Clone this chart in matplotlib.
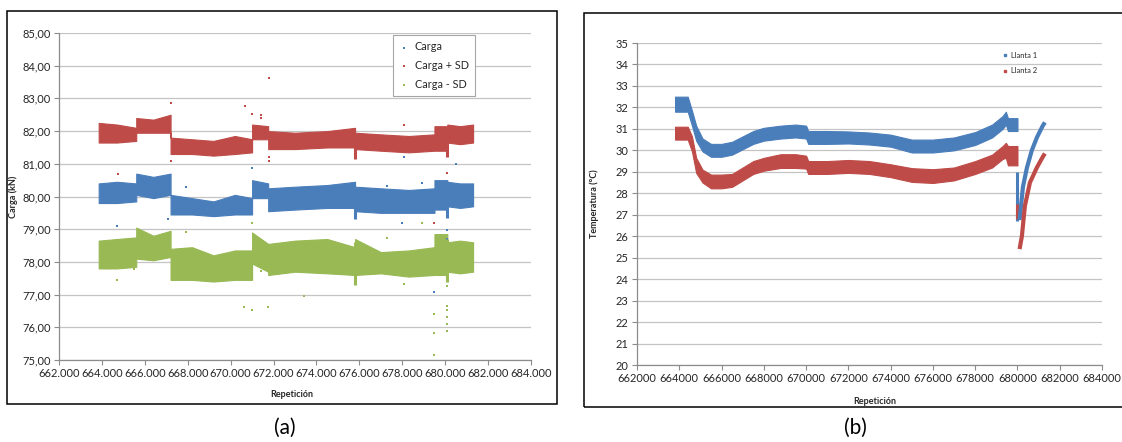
import matplotlib
matplotlib.use("Agg")
import matplotlib.pyplot as plt
from matplotlib.patches import Rectangle
from matplotlib.lines import Line2D
from matplotlib.ticker import FuncFormatter

plt.rcParams['font.family'] = ['Lato', 'DejaVu Sans']

BLUE = '#4A7EBB'
RED = '#BE4B48'
GREEN = '#98B954'
GRID = '#C4C4C4'
AXIS = '#8C8C8C'
TXT = '#262626'

# ---------------- (a) load per repetition ----------------
rep_a = [663850, 664700, 665600, 665600, 666400, 667200, 667200, 668200, 669200,
         670200, 671000, 671000, 671750, 671750, 673000, 674500, 675800, 675800,
         677000, 678300, 679500, 679500, 680100, 680100, 680700, 681300]

carga_sd_plus_hi = [82.25, 82.2, 82.1, 82.4, 82.35, 82.5, 81.8, 81.75, 81.7, 81.85,
                    81.75, 82.2, 82.15, 82.0, 81.95, 82.0, 82.1, 81.95, 81.9, 81.85,
                    81.9, 82.15, 82.15, 82.2, 82.15, 82.2]
carga_sd_plus_lo = [81.65, 81.65, 81.7, 81.95, 81.95, 81.95, 81.3, 81.3, 81.25, 81.3,
                    81.35, 81.75, 81.75, 81.45, 81.45, 81.5, 81.5, 81.45, 81.4, 81.35,
                    81.4, 81.4, 81.4, 81.65, 81.6, 81.65]

carga_hi = [80.4, 80.45, 80.4, 80.7, 80.6, 80.7, 80.05, 79.95, 79.85, 80.05, 79.95,
            80.5, 80.4, 80.25, 80.3, 80.35, 80.45, 80.3, 80.25, 80.2, 80.25, 80.5,
            80.5, 80.45, 80.4, 80.4]
carga_lo = [79.8, 79.8, 79.85, 80.05, 79.95, 80.05, 79.45, 79.45, 79.4, 79.45, 79.45,
            79.95, 79.95, 79.55, 79.6, 79.65, 79.65, 79.55, 79.5, 79.5, 79.5, 79.6,
            79.6, 79.7, 79.65, 79.7]

carga_sd_minus_hi = [78.65, 78.7, 78.75, 79.05, 78.8, 78.95, 78.4, 78.45, 78.2, 78.35,
                     78.35, 78.9, 78.55, 78.55, 78.65, 78.7, 78.45, 78.7, 78.3, 78.35,
                     78.45, 78.85, 78.85, 78.6, 78.65, 78.6]
carga_sd_minus_lo = [77.8, 77.8, 77.85, 78.1, 78.05, 78.15, 77.45, 77.45, 77.4, 77.45,
                     77.45, 77.95, 77.7, 77.6, 77.7, 77.65, 77.6, 77.6, 77.65, 77.55,
                     77.6, 77.6, 77.6, 77.7, 77.65, 77.7]

# short drops in the load at two repetitions
dip_rep = [675800, 680100]
carga_sd_plus_dip = [81.15, 81.2]
carga_dip = [79.3, 79.35]
carga_sd_minus_dip = [77.3, 77.4]
dip_top_plus = [81.9, 82.1]
dip_top = [80.2, 80.4]
dip_top_minus = [78.6, 78.7]

# isolated readings
out_plus_x = [664750, 667200, 667200, 670650, 671000, 671400, 671400, 671800, 671800,
              671800, 678100, 679500, 680100]
out_plus_y = [80.69, 82.86, 81.08, 82.77, 82.52, 82.49, 82.4, 83.62, 81.2, 81.1,
              82.19, 79.2, 80.72]
out_carga_x = [664700, 667100, 667900, 671000, 677300, 678100, 678900, 678000,
               680100, 680100, 679500, 680500]
out_carga_y = [79.1, 79.3, 80.3, 80.87, 80.32, 81.2, 80.41, 79.2, 78.98, 78.7,
               77.08, 80.99]
out_minus_x = [664700, 665500, 667900, 671000, 670600, 671000, 671750, 671400,
               673400, 677300, 678100, 678900, 679500, 679500, 679500, 680100,
               680100, 680100, 680100, 680100, 680100]
out_minus_y = [77.45, 77.78, 78.91, 79.19, 76.62, 76.53, 76.62, 77.72, 76.96,
               78.73, 77.32, 79.19, 76.4, 75.83, 75.15, 77.26, 76.65, 76.53,
               76.3, 75.89, 76.1]

# ---------------- (b) tyre temperature ----------------
rep_b = [663800, 664400, 664600, 664800, 665100, 665500, 666000, 666500, 667000,
         667500, 668000, 668800, 669500, 670000, 670100, 671000, 672000, 673000,
         674000, 675000, 676000, 677000, 678000, 678800, 679300, 679450, 679550,
         680000]
llanta1_c = [32.15, 32.15, 31.5, 30.8, 30.25, 30.0, 30.0, 30.1, 30.35, 30.6, 30.75,
             30.85, 30.9, 30.85, 30.6, 30.6, 30.6, 30.55, 30.45, 30.2, 30.2, 30.3,
             30.55, 30.9, 31.3, 31.5, 31.2, 31.2]
llanta1_spread = [0.35, 0.35, 0.35, 0.35, 0.3, 0.3, 0.3, 0.3, 0.3, 0.3, 0.3, 0.3,
                  0.3, 0.3, 0.3, 0.3, 0.28, 0.28, 0.28, 0.3, 0.3, 0.3, 0.3, 0.3,
                  0.3, 0.3, 0.3, 0.3]
llanta2_c = [30.8, 30.8, 30.3, 29.3, 28.8, 28.55, 28.55, 28.6, 28.9, 29.2, 29.35,
             29.5, 29.5, 29.45, 29.2, 29.2, 29.25, 29.2, 29.05, 28.85, 28.8, 28.9,
             29.2, 29.5, 29.9, 30.0, 29.75, 29.75]
llanta2_spread = [0.3, 0.3, 0.35, 0.35, 0.3, 0.32, 0.32, 0.3, 0.3, 0.3, 0.3, 0.32,
                  0.32, 0.3, 0.3, 0.3, 0.3, 0.3, 0.3, 0.32, 0.32, 0.3, 0.3, 0.3,
                  0.3, 0.35, 0.45, 0.45]

# cool-down and recovery after the stop
llanta1_rec_x = [680100, 680260, 680450, 680680, 680920, 681200, 681300]
llanta1_rec_y = [26.75, 28.3, 29.2, 30.0, 30.6, 31.15, 31.3]
llanta2_rec_x = [680100, 680210, 680350, 680590, 680920, 681200, 681300]
llanta2_rec_y = [25.4, 26.0, 27.4, 28.5, 29.2, 29.7, 29.85]
stop_rep = 680000
llanta1_stop = [26.7, 29.0]
llanta2_stop = [26.8, 27.5]

# ---------------- figure ----------------
fig = plt.figure(figsize=(11.22, 4.42), dpi=100)
W, H = 1122.0, 442.0


def fig_box(x0, y0, x1, y1):
    return [x0 / W, 1 - y1 / H, (x1 - x0) / W, (y1 - y0) / H]


def style_axes(ax):
    for s in ('top', 'right'):
        ax.spines[s].set_visible(False)
    for s in ('left', 'bottom'):
        ax.spines[s].set_color(AXIS)
        ax.spines[s].set_linewidth(0.9)
    ax.yaxis.grid(True, color=GRID, lw=0.9)
    ax.xaxis.grid(False)
    ax.set_axisbelow(True)
    ax.tick_params(direction='out', length=3.5, width=0.8, color=AXIS,
                   labelsize=8, labelcolor=TXT, pad=2.5)


# frames around both panels
fig.add_artist(Rectangle((7 / W, 1 - 404 / H), 550 / W, 393 / H, fill=False,
                         lw=1.1, ec='black', transform=fig.transFigure))
fig.add_artist(Rectangle((584 / W, 1 - 407 / H), 560 / W, 394 / H, fill=False,
                         lw=1.1, ec='black', transform=fig.transFigure,
                         clip_on=False))

# ---- panel (a)
ax1 = fig.add_axes(fig_box(59, 33, 531, 360))
style_axes(ax1)
for hi, lo, col in ((carga_sd_plus_hi, carga_sd_plus_lo, RED),
                    (carga_hi, carga_lo, BLUE),
                    (carga_sd_minus_hi, carga_sd_minus_lo, GREEN)):
    ax1.fill_between(rep_a, lo, hi, color=col, lw=0.8, edgecolor=col)
ax1.vlines(dip_rep, carga_sd_plus_dip, dip_top_plus, color=RED, lw=2.2)
ax1.vlines(dip_rep, carga_dip, dip_top, color=BLUE, lw=2.2)
ax1.vlines(dip_rep, carga_sd_minus_dip, dip_top_minus, color=GREEN, lw=2.2)
ax1.scatter(out_carga_x, out_carga_y, s=4, marker='s', color=BLUE, lw=0, label='Carga')
ax1.scatter(out_plus_x, out_plus_y, s=4, marker='s', color=RED, lw=0, label='Carga + SD')
ax1.scatter(out_minus_x, out_minus_y, s=4, marker='s', color=GREEN, lw=0, label='Carga - SD')

ax1.set_xlim(662000, 684000)
ax1.set_xticks(range(662000, 684001, 2000))
ax1.set_ylim(75, 85)
ax1.set_yticks(range(75, 86))
ax1.xaxis.set_major_formatter(FuncFormatter(lambda v, p: f"{int(v):,}".replace(",", ".")))
ax1.yaxis.set_major_formatter(FuncFormatter(lambda v, p: f"{v:.2f}".replace(".", ",")))
ax1.set_xlabel('Repetición', fontsize=6.5, fontweight='bold', color=TXT)
ax1.set_ylabel('Carga (kN)', fontsize=6.5, fontweight='bold', color=TXT)
ax1.xaxis.set_label_coords(0.494, -0.092)
ax1.yaxis.set_label_coords(-0.086, 0.5)
leg1 = ax1.legend(loc='upper left', bbox_to_anchor=(393 / W, 1 - 35 / H),
                  bbox_transform=fig.transFigure, fontsize=7.8, frameon=True,
                  fancybox=False, edgecolor='#A6A6A6', framealpha=1,
                  markerscale=0.6, handlelength=0.8, handletextpad=0.6,
                  labelspacing=0.7, borderpad=0.6, borderaxespad=0)
leg1.get_frame().set_linewidth(0.8)
for t in leg1.get_texts():
    t.set_color(TXT)

# ---- panel (b)
ax2 = fig.add_axes(fig_box(637, 43, 1102, 365))
style_axes(ax2)
for c, sp, col in ((llanta1_c, llanta1_spread, BLUE), (llanta2_c, llanta2_spread, RED)):
    lo = [a - b for a, b in zip(c, sp)]
    hi = [a + b for a, b in zip(c, sp)]
    ax2.fill_between(rep_b, lo, hi, color=col, lw=0.8, edgecolor=col)
ax2.vlines([stop_rep], llanta1_stop[0], llanta1_stop[1], color=BLUE, lw=2.2)
ax2.vlines([stop_rep], llanta2_stop[0], llanta2_stop[1], color=RED, lw=2.2)
ax2.plot(llanta1_rec_x, llanta1_rec_y, color=BLUE, lw=3.0, solid_capstyle='butt')
ax2.plot(llanta2_rec_x, llanta2_rec_y, color=RED, lw=3.0, solid_capstyle='butt')

ax2.set_xlim(662000, 684000)
ax2.set_xticks(range(662000, 684001, 2000))
ax2.set_ylim(20, 35)
ax2.set_yticks(range(20, 36))
ax2.set_xlabel('Repetición', fontsize=6.5, fontweight='bold', color=TXT)
ax2.set_ylabel('Temperatura (°C)', fontsize=6.5, fontweight='bold', color=TXT)
ax2.xaxis.set_label_coords(0.512, -0.099)
ax2.yaxis.set_label_coords(-0.081, 0.5)
handles = [Line2D([], [], ls='', marker='s', ms=2, color=BLUE, label='Llanta 1'),
           Line2D([], [], ls='', marker='s', ms=2, color=RED, label='Llanta 2')]
leg2 = ax2.legend(handles=handles, loc='upper left',
                  bbox_to_anchor=(1003 / W, 1 - 52 / H), bbox_transform=fig.transFigure,
                  fontsize=5.4, frameon=False, handlelength=0.6, handletextpad=0.5,
                  labelspacing=1.1, borderpad=0, borderaxespad=0)
for t in leg2.get_texts():
    t.set_color(TXT)

# panel captions
fig.text(285 / W, 1 - 428 / H, '(a)', fontsize=15, ha='center', va='center', color='black')
fig.text(855 / W, 1 - 428 / H, '(b)', fontsize=15, ha='center', va='center', color='black')

fig.savefig('out.png', dpi=100)
